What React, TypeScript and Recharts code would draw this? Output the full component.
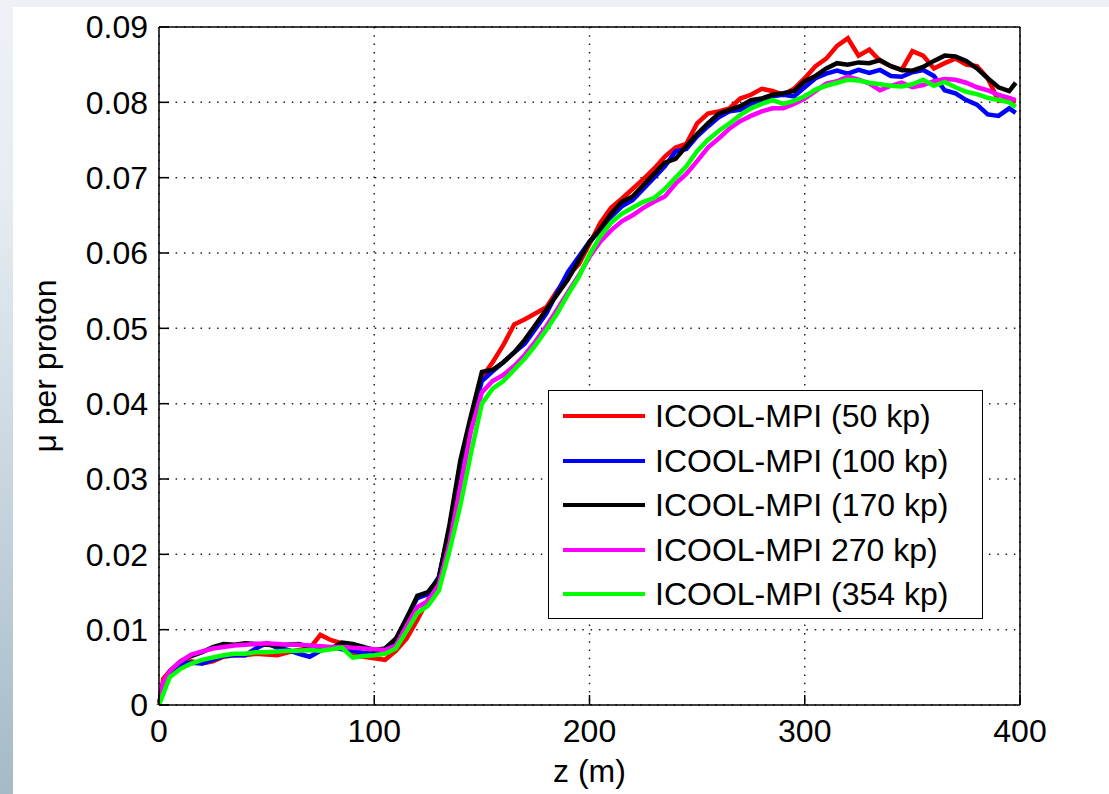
import { LineChart, Line, XAxis, YAxis, CartesianGrid, ReferenceLine, Legend } from 'recharts';

// distance along the channel (m)
const zPos = [
  0, 2, 5, 10, 15, 20, 25, 30, 35, 40,
  45, 50, 55, 60, 65, 70, 75, 80, 85, 90,
  95, 100, 105, 110, 115, 120, 125, 130, 135, 140,
  145, 150, 155, 160, 165, 170, 175, 180, 185, 190,
  195, 200, 205, 210, 215, 220, 225, 230, 235, 240,
  245, 250, 255, 260, 265, 270, 275, 280, 285, 290,
  295, 300, 305, 310, 315, 320, 325, 330, 335, 340,
  345, 350, 355, 360, 365, 370, 375, 380, 385, 390,
  395, 398,
];

const mu50 = [
  0, 0.0035, 0.0045, 0.0052, 0.0058, 0.0055, 0.0058, 0.0064, 0.0066, 0.0066,
  0.0068, 0.0067, 0.0066, 0.007, 0.0073, 0.0075, 0.0093, 0.0086, 0.0082, 0.0066,
  0.0064, 0.0062, 0.006, 0.0072, 0.0088, 0.0113, 0.014, 0.0165, 0.022, 0.031,
  0.038, 0.0435, 0.0455, 0.0478, 0.0505, 0.0512, 0.052, 0.0528, 0.055, 0.057,
  0.0585, 0.0612, 0.064, 0.066, 0.0672, 0.0685, 0.0698, 0.0712, 0.0728, 0.074,
  0.0745, 0.0772, 0.0785, 0.0788, 0.0792, 0.0805, 0.081, 0.0818, 0.0815, 0.081,
  0.0818, 0.0832, 0.0848, 0.0858, 0.0875, 0.0885, 0.0862, 0.087, 0.0855, 0.0848,
  0.0843, 0.0868, 0.0862, 0.0845, 0.0852, 0.0858, 0.085, 0.0848, 0.0832, 0.0802,
  0.0803, 0.08,
];

const mu100 = [
  0, 0.0025, 0.0042, 0.0055, 0.0056, 0.0055, 0.006, 0.0065, 0.0066, 0.0066,
  0.0075, 0.0082, 0.0076, 0.0073, 0.0068, 0.0064, 0.0072, 0.0077, 0.0074, 0.0072,
  0.0069, 0.0068, 0.007, 0.0085, 0.0115, 0.0142, 0.0147, 0.017, 0.0235, 0.032,
  0.038, 0.043, 0.0443, 0.0455, 0.0468, 0.048, 0.05, 0.052, 0.0548, 0.0575,
  0.0595, 0.0615, 0.063, 0.0648, 0.0662, 0.067, 0.0685, 0.07, 0.0715, 0.0735,
  0.0738, 0.0755, 0.0768, 0.078, 0.0788, 0.079, 0.0798, 0.0802, 0.0808, 0.081,
  0.0808, 0.082, 0.0832, 0.0838, 0.0842, 0.0838, 0.0843, 0.0839, 0.0843, 0.0835,
  0.0834, 0.084, 0.0843, 0.0835, 0.0816, 0.0812, 0.0803, 0.0797, 0.0784, 0.0782,
  0.0792, 0.0786,
];

const mu170 = [
  0, 0.0028, 0.0045, 0.0058, 0.0065, 0.007, 0.0077, 0.0081, 0.008, 0.0082,
  0.0081, 0.008, 0.0079, 0.008, 0.0081, 0.0077, 0.0075, 0.0075, 0.0083, 0.0081,
  0.0077, 0.0073, 0.0075, 0.0088, 0.0115, 0.0145, 0.015, 0.0168, 0.024, 0.0325,
  0.0385, 0.0442, 0.0445, 0.0455, 0.0468, 0.0485, 0.0505, 0.0525, 0.0545, 0.0565,
  0.059, 0.0615, 0.0632, 0.0652, 0.0668, 0.0675, 0.069, 0.0705, 0.072, 0.0725,
  0.0742, 0.0758, 0.0772, 0.0785, 0.079, 0.0795, 0.0803, 0.0805, 0.081, 0.0812,
  0.0815, 0.0828, 0.0835, 0.0845, 0.0852, 0.085, 0.0853, 0.0852, 0.0856, 0.0848,
  0.0843, 0.0842, 0.0847, 0.0855, 0.0862, 0.0861, 0.0855, 0.0845, 0.0832, 0.082,
  0.0815, 0.0826,
];

const mu270 = [
  0, 0.003, 0.0045, 0.0058, 0.0067, 0.0071, 0.0075, 0.0077, 0.0079, 0.008,
  0.0081, 0.0082, 0.0081, 0.008, 0.008, 0.0079, 0.0078, 0.0077, 0.0077, 0.0076,
  0.0075, 0.0074, 0.0073, 0.0079, 0.0105, 0.013, 0.0138, 0.016, 0.0215, 0.029,
  0.0365, 0.0415, 0.043, 0.0438, 0.045, 0.0465, 0.0483, 0.0503, 0.0525, 0.0548,
  0.057, 0.0595, 0.0615, 0.063, 0.0642, 0.065, 0.066, 0.0668, 0.0675, 0.0692,
  0.0705, 0.0722, 0.074, 0.0752, 0.0765, 0.0775, 0.0782, 0.0788, 0.0792, 0.0792,
  0.0798, 0.0805, 0.0815, 0.0825, 0.0828, 0.0834, 0.083, 0.0825, 0.0816, 0.0822,
  0.0826, 0.082, 0.0823, 0.0828, 0.0831, 0.083, 0.0826, 0.082, 0.0816, 0.081,
  0.0806, 0.0803,
];

const mu354 = [
  0, 0.0015, 0.0037, 0.0048, 0.0055, 0.006, 0.0063, 0.0066, 0.0068, 0.0068,
  0.007, 0.007, 0.0071, 0.0072, 0.0072, 0.0073, 0.0072, 0.0074, 0.0076, 0.0063,
  0.0065, 0.0066, 0.0068, 0.0075, 0.0098, 0.0122, 0.0132, 0.0152, 0.0205, 0.0265,
  0.0335, 0.04, 0.042, 0.043, 0.0445, 0.046, 0.0478, 0.0498, 0.052, 0.0545,
  0.0568, 0.0598, 0.0622, 0.064, 0.0652, 0.066, 0.0668, 0.0673, 0.0685, 0.07,
  0.0715, 0.0735, 0.075, 0.0762, 0.0772, 0.0783, 0.0792, 0.0798, 0.0803, 0.0798,
  0.0802, 0.0808, 0.0817, 0.0822, 0.0826, 0.083, 0.0829, 0.0826, 0.0824, 0.0822,
  0.0821, 0.0824, 0.083, 0.0822, 0.0827, 0.082, 0.0814, 0.0811, 0.0806, 0.0803,
  0.08, 0.0794,
];

const xTicks = [0, 100, 200, 300, 400];
const yTicks = [0, 0.01, 0.02, 0.03, 0.04, 0.05, 0.06, 0.07, 0.08, 0.09];

const series = [
  { key: 'mu50', name: 'ICOOL-MPI (50 kp)', color: '#ff0000', values: mu50 },
  { key: 'mu100', name: 'ICOOL-MPI (100 kp)', color: '#0000ff', values: mu100 },
  { key: 'mu170', name: 'ICOOL-MPI (170 kp)', color: '#000000', values: mu170 },
  { key: 'mu270', name: 'ICOOL-MPI 270 kp)', color: '#ff00ff', values: mu270 },
  { key: 'mu354', name: 'ICOOL-MPI (354 kp)', color: '#00ff00', values: mu354 },
];

const data = zPos.map((z, i) => {
  const row: Record<string, number> = { z };
  series.forEach((s) => {
    row[s.key] = s.values[i];
  });
  return row;
});

const FONT = '"Liberation Sans", Arial, Helvetica, sans-serif';
const tickStyle = { fontSize: 32, fill: '#000', fontFamily: FONT };

// recharts sorts the legend payload, so keep the plotting order from `series`
function LegendBox() {
  return (
    <div
      style={{
        width: 435,
        height: 229,
        border: '1.5px solid #000',
        background: '#fff',
        boxSizing: 'border-box',
        padding: '3px 0 0 14px',
        fontFamily: FONT,
        fontSize: 32,
        color: '#000',
      }}
    >
      {series.map((s) => (
        <div key={s.key} style={{ display: 'flex', alignItems: 'center', height: 44.5 }}>
          <span
            style={{ display: 'inline-block', width: 82, height: 4, background: s.color, marginRight: 10 }}
          />
          <span style={{ lineHeight: '32px' }}>{s.name}</span>
        </div>
      ))}
    </div>
  );
}

export default function App() {
  return (
    <div style={{ position: 'absolute', left: 0, top: 0, width: 1109, height: 794, background: '#fff', overflow: 'hidden' }}>
      <div style={{ position: 'absolute', left: 0, top: 0, width: 1109, height: 7, background: '#edf1f5' }} />
      <div
        style={{
          position: 'absolute',
          left: 0,
          top: 0,
          width: 13,
          height: 794,
          background: 'linear-gradient(to bottom, #eef2f6 0%, #e6ecf1 25%, #c9d6e0 60%, #a5b9c9 100%)',
        }}
      />
      <div style={{ position: 'absolute', left: 0, top: 0 }}>
        <LineChart
          width={1109}
          height={794}
          data={data}
          margin={{ top: 27, right: 89, bottom: 0, left: 9 }}
        >
          <CartesianGrid
            stroke="#222"
            strokeWidth={1.5}
            strokeDasharray="1.5 6.8"
            horizontalValues={yTicks}
            verticalValues={xTicks}
          />
          <XAxis
            dataKey="z"
            type="number"
            domain={[0, 400]}
            ticks={xTicks}
            height={89}
            tickSize={-10}
            tickMargin={24}
            tick={tickStyle}
            axisLine={{ stroke: '#000', strokeWidth: 1.5 }}
            tickLine={{ stroke: '#000', strokeWidth: 1.5 }}
            label={({ viewBox }: any) => (
              <text
                x={viewBox.x + viewBox.width / 2}
                y={viewBox.y + 77}
                textAnchor="middle"
                fontSize={32}
                fontFamily={FONT}
                fill="#000"
              >
                z (m)
              </text>
            )}
          />
          <XAxis
            xAxisId="top"
            orientation="top"
            dataKey="z"
            type="number"
            domain={[0, 400]}
            ticks={xTicks}
            height={0}
            tickSize={-10}
            tick={false}
            axisLine={{ stroke: '#000', strokeWidth: 1.5 }}
            tickLine={{ stroke: '#000', strokeWidth: 1.5 }}
          />
          <YAxis
            type="number"
            domain={[0, 0.09]}
            ticks={yTicks}
            width={150}
            tickSize={-10}
            tickMargin={21}
            tick={tickStyle}
            tickFormatter={(v: number) => (v === 0 ? '0' : v.toFixed(2))}
            axisLine={{ stroke: '#000', strokeWidth: 1.5 }}
            tickLine={{ stroke: '#000', strokeWidth: 1.5 }}
            label={({ viewBox }: any) => {
              const x = viewBox.x + viewBox.width - 114;
              const y = viewBox.y + viewBox.height / 2;
              return (
                <text
                  x={x}
                  y={y}
                  transform={`rotate(-90 ${x} ${y})`}
                  textAnchor="middle"
                  dominantBaseline="central"
                  fontSize={32}
                  fontFamily={FONT}
                  fill="#000"
                >
                  μ per proton
                </text>
              );
            }}
          />
          <YAxis
            yAxisId="right"
            orientation="right"
            type="number"
            domain={[0, 0.09]}
            ticks={yTicks}
            width={0}
            tickSize={-10}
            tick={false}
            axisLine={{ stroke: '#000', strokeWidth: 1.5 }}
            tickLine={{ stroke: '#000', strokeWidth: 1.5 }}
          />
          <ReferenceLine y={0.09} stroke="#000" strokeWidth={1.5} />
          <ReferenceLine x={400} stroke="#000" strokeWidth={1.5} />
          {series.map((s) => (
            <Line
              key={s.key}
              type="linear"
              dataKey={s.key}
              name={s.name}
              stroke={s.color}
              strokeWidth={4.5}
              dot={false}
              isAnimationActive={false}
            />
          ))}
          <Legend
            layout="horizontal"
            verticalAlign="middle"
            align="center"
            content={LegendBox}
            wrapperStyle={{ left: 548, top: 390, width: 435, height: 229 }}
          />
        </LineChart>
      </div>
    </div>
  );
}
